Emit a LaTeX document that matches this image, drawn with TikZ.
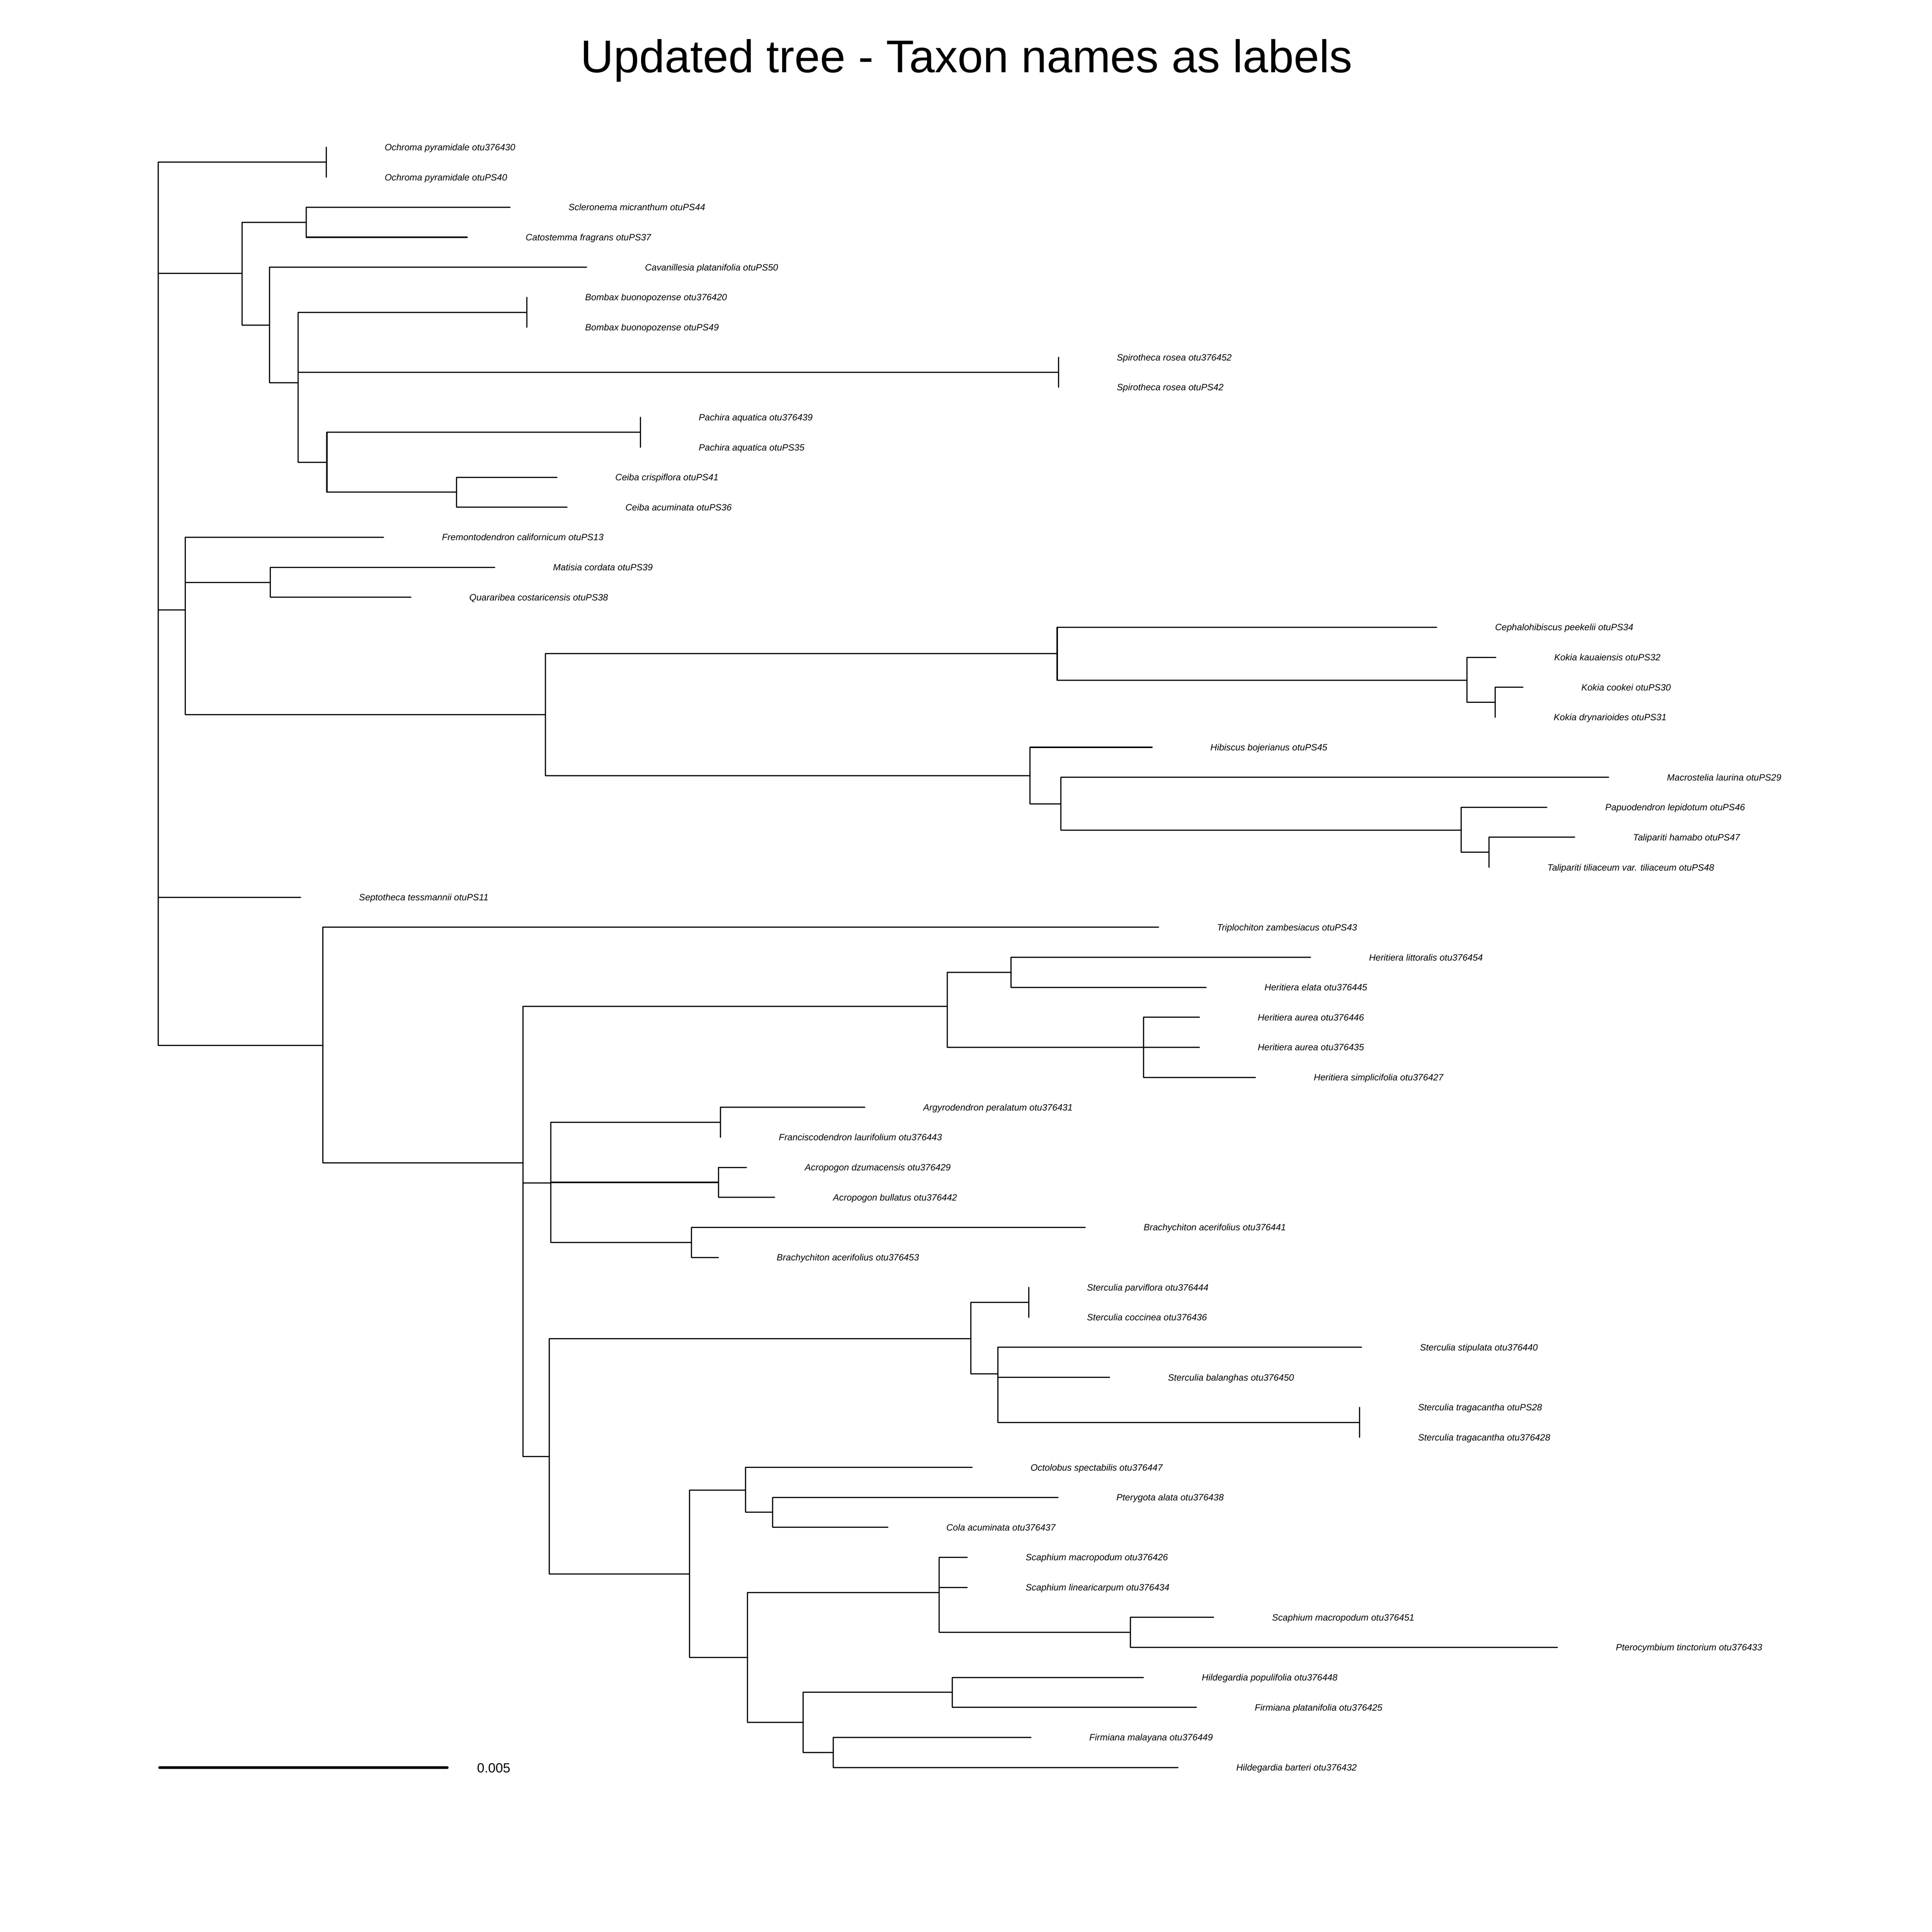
\documentclass[tikz,border=0pt]{standalone}
\usepackage{fontspec}
\setmainfont{Liberation Sans}
\begin{document}
\begin{tikzpicture}[x=1pt,y=-1pt,
  br/.style={line width=0.95pt, line cap=round, line join=round},
  lab/.style={anchor=base west, inner sep=0pt, font=\fontsize{7.42}{8}\selectfont\itshape},
  scalebar/.style={line width=2.2pt, line cap=round},
]
\fill[white] (0,0) rectangle (1568,1568);
\useasboundingbox (0,0) rectangle (1568,1568);

\node[anchor=base, inner sep=0pt, font=\fontsize{37.2}{40}\selectfont] (title) at (784.5,58.7) {Updated tree - Taxon names as labels};

% leaves
\foreach \i/\tx/\lab in {
1/264.8/{Ochroma pyramidale otu376430},
2/264.8/{Ochroma pyramidale otuPS40},
3/414/{Scleronema micranthum otuPS44},
4/379.2/{Catostemma fragrans otuPS37},
5/476.1/{Cavanillesia platanifolia otuPS50},
6/427.5/{Bombax buonopozense otu376420},
7/427.5/{Bombax buonopozense otuPS49},
8/859/{Spirotheca rosea otu376452},
9/859/{Spirotheca rosea otuPS42},
10/519.7/{Pachira aquatica otu376439},
11/519.7/{Pachira aquatica otuPS35},
12/452/{Ceiba crispiflora otuPS41},
13/460.2/{Ceiba acuminata otuPS36},
14/311.3/{Fremontodendron californicum otuPS13},
15/401.5/{Matisia cordata otuPS39},
16/333.5/{Quararibea costaricensis otuPS38},
17/1166/{Cephalohibiscus peekelii otuPS34},
18/1214/{Kokia kauaiensis otuPS32},
19/1236/{Kokia cookei otuPS30},
20/1213.6/{Kokia drynarioides otuPS31},
21/935/{Hibiscus bojerianus otuPS45},
22/1305.5/{Macrostelia laurina otuPS29},
23/1255.4/{Papuodendron lepidotum otuPS46},
24/1278/{Talipariti hamabo otuPS47},
25/1208.4/{Talipariti tiliaceum var. tiliaceum otuPS48},
26/244/{Septotheca tessmannii otuPS11},
27/940.3/{Triplochiton zambesiacus otuPS43},
28/1063.7/{Heritiera littoralis otu376454},
29/978.9/{Heritiera elata otu376445},
30/973.4/{Heritiera aurea otu376446},
31/973.4/{Heritiera aurea otu376435},
32/1018.9/{Heritiera simplicifolia otu376427},
33/701.9/{Argyrodendron peralatum otu376431},
34/584.7/{Franciscodendron laurifolium otu376443},
35/605.8/{Acropogon dzumacensis otu376429},
36/628.7/{Acropogon bullatus otu376442},
37/880.8/{Brachychiton acerifolius otu376441},
38/583/{Brachychiton acerifolius otu376453},
39/834.8/{Sterculia parviflora otu376444},
40/834.8/{Sterculia coccinea otu376436},
41/1105/{Sterculia stipulata otu376440},
42/900.5/{Sterculia balanghas otu376450},
43/1103.5/{Sterculia tragacantha otuPS28},
44/1103.5/{Sterculia tragacantha otu376428},
45/789/{Octolobus spectabilis otu376447},
46/858.7/{Pterygota alata otu376438},
47/720.6/{Cola acuminata otu376437},
48/785/{Scaphium macropodum otu376426},
49/785/{Scaphium linearicarpum otu376434},
50/985/{Scaphium macropodum otu376451},
51/1264/{Pterocymbium tinctorium otu376433},
52/928/{Hildegardia populifolia otu376448},
53/971/{Firmiana platanifolia otu376425},
54/836.7/{Firmiana malayana otu376449},
55/956/{Hildegardia barteri otu376432}}{
  \pgfmathsetmacro\yy{119.5+24.35*(\i-1)}
  \coordinate (t\i) at (\tx,\yy);
  \node[lab] (l\i) at ({\tx+47.2},{\yy+2.66}) {\lab};
}

% internal nodes
\coordinate (root) at (128.4,490);
\coordinate (nOch) at (264.8,131.7);
\coordinate (nSC) at (248.6,180.4);
\coordinate (nA) at (196.4,222);
\coordinate (nB) at (218.8,263.8);
\coordinate (nC) at (241.8,310.5);
\coordinate (nBom) at (427.5,253.4);
\coordinate (nSpi) at (859,302.1);
\coordinate (nD) at (265.3,375.3);
\coordinate (nPac) at (519.7,350.8);
\coordinate (nCei) at (370.6,399.5);
\coordinate (nE) at (150.5,495);
\coordinate (nMat) at (219.5,472.6);
\coordinate (nF) at (442.5,580.1);
\coordinate (nG) at (858,530.6);
\coordinate (nK1) at (1190.7,552);
\coordinate (nK2) at (1213.6,570);
\coordinate (nH) at (836,629.5);
\coordinate (nI) at (861,652.4);
\coordinate (nJ) at (1186,673.9);
\coordinate (nK3) at (1208.4,691.7);
\coordinate (nL) at (262,848.3);
\coordinate (nM) at (424.4,943.9);
\coordinate (nN) at (768.8,816.9);
\coordinate (nHe1) at (820.6,789.1);
\coordinate (nHe2) at (928.1,850);
\coordinate (nO) at (447,960);
\coordinate (nArg) at (584.7,910.9);
\coordinate (nAcr) at (583.2,959.6);
\coordinate (nBra) at (561.3,1008.3);
\coordinate (nP) at (445.8,1182);
\coordinate (nQ) at (788,1086.4);
\coordinate (nSpc) at (834.8,1057);
\coordinate (nS) at (809.8,1115);
\coordinate (nTrag) at (1103.5,1154.4);
\coordinate (nR) at (559.5,1277.3);
\coordinate (nT) at (605,1209.4);
\coordinate (nPC) at (627,1227.4);
\coordinate (nU) at (606.8,1345.3);
\coordinate (nV) at (762.3,1292.5);
\coordinate (nX) at (917.4,1324.8);
\coordinate (nW) at (651.8,1398);
\coordinate (nHP) at (773,1373.5);
\coordinate (nFM) at (676.2,1422.2);

\foreach \p/\c in {
 root/nOch, root/nA, root/nE, root/t26, root/nL,
 nOch/t1, nOch/t2,
 nA/nSC, nA/nB, nSC/t3, nSC/t4,
 nB/t5, nB/nC,
 nC/nBom, nC/nSpi, nC/nD,
 nBom/t6, nBom/t7, nSpi/t8, nSpi/t9,
 nD/nPac, nD/nCei, nPac/t10, nPac/t11, nCei/t12, nCei/t13,
 nE/t14, nE/nMat, nE/nF, nMat/t15, nMat/t16,
 nF/nG, nF/nH,
 nG/t17, nG/nK1, nK1/t18, nK1/nK2, nK2/t19, nK2/t20,
 nH/t21, nH/nI, nI/t22, nI/nJ, nJ/t23, nJ/nK3, nK3/t24, nK3/t25,
 nL/t27, nL/nM,
 nM/nN, nM/nO, nM/nP,
 nN/nHe1, nN/nHe2, nHe1/t28, nHe1/t29, nHe2/t30, nHe2/t31, nHe2/t32,
 nO/nArg, nO/nAcr, nO/nBra, nArg/t33, nArg/t34, nAcr/t35, nAcr/t36, nBra/t37, nBra/t38,
 nP/nQ, nP/nR,
 nQ/nSpc, nQ/nS, nSpc/t39, nSpc/t40,
 nS/t41, nS/t42, nS/nTrag, nTrag/t43, nTrag/t44,
 nR/nT, nR/nU, nT/t45, nT/nPC, nPC/t46, nPC/t47,
 nU/nV, nU/nW, nV/t48, nV/t49, nV/nX, nX/t50, nX/t51,
 nW/nHP, nW/nFM, nHP/t52, nHP/t53, nFM/t54, nFM/t55}{
  \draw[br] (\p) |- (\c);
}

% scale bar
\coordinate (sb0) at (129.5,1434.6);
\coordinate (sb1) at (363,1434.6);
\draw[scalebar] (sb0) -- (sb1);
\node[anchor=base west, inner sep=0pt, font=\fontsize{10.8}{12}\selectfont] (sblab) at (387,1438.6) {0.005};
\end{tikzpicture}
\end{document}
